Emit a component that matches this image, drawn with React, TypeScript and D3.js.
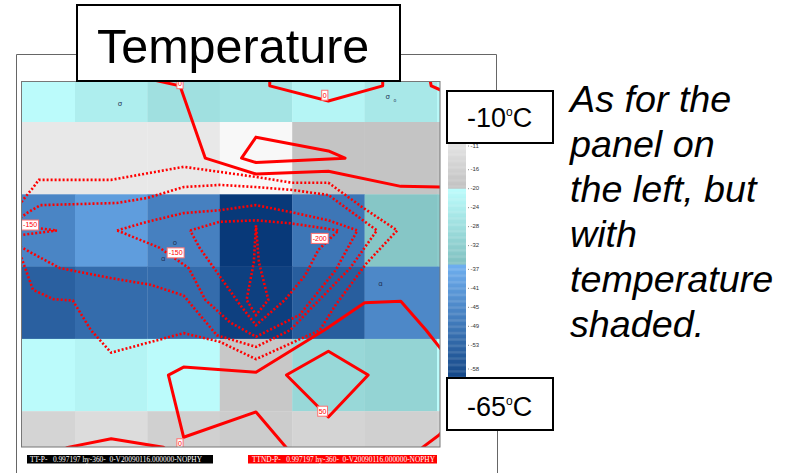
import React from "react";
import * as d3 from "d3";

// ---------- data ----------
// temperature (°C) per grid cell, rows top->bottom, cols left->right
const tempRow0 = [-20.3, -23.7, -27.4, -26.3, -21.8, -25.3, -21];
const tempRow1 = [-9.3, -9.3, -9.3, -5, -18.9, -18.9, -18];
const tempRow2 = [-45.7, -40.2, -46.8, -63, -49.1, -34.2, -33];
const tempRow3 = [-54, -51.4, -51.4, -61.4, -54.6, -44.9, -45];
const tempRow4 = [-20.3, -22.1, -20.3, -17.9, -29.5, -30.5, -20.3];
const tempRow5 = [-14.6, -12.5, -15.7, -16.8, -14.6, -15.7, -15];
const tempGrid = [tempRow0, tempRow1, tempRow2, tempRow3, tempRow4, tempRow5];

const colorbarTicks = [-11, -16, -20, -24, -28, -32, -37, -41, -45, -49, -53, -58];

// tendency contours (grid units: x = column, y = row)
const solidContours: [number, number][][] = [
  [[1.5, -0.1], [1.95, 0], [2.3, 1], [3, 1.22], [4, 1.18], [5, 1.39], [5.6, 1.4]],
  [[3, 0.71], [4, 0.9], [4.23, 1], [3, 1.06], [2.8, 1], [3, 0.71]],
  [[3.19, -0.1], [3.19, 0], [4, 0.21], [4.75, 0], [4.75, -0.1]],
  [[5.4, -0.1], [5.42, 0], [5.6, 0.08]],
  [[5.6, 3.7], [5.35, 3.38], [5, 2.98], [4.5, 3], [3.94, 3.38], [3, 3.96], [2, 3.89], [1.79, 4], [2, 4.86], [3, 4.51], [3.5, 5.1]],
  [[3.42, 4], [4, 3.67], [4.55, 4], [4, 4.58], [3.42, 4]],
  [[0.3, 5.05], [0.4, 5], [1, 4.88], [1.72, 5], [1.8, 5.05]],
  [[5.3, 5], [5.53, 4.83], [5.6, 4.75]],
];
const dottedContours: [number, number][][] = [
  [[-0.3, 1.7], [-0.22, 1.58], [-0.08, 1.41], [0, 1.3], [1, 1.3], [2, 1.12], [2.5, 1.19], [3, 1.26], [3.5, 1.34], [4, 1.34], [4.47, 1.68], [4.95, 2], [4.53, 2.45], [4.1, 3.03], [3.88, 3.38], [3, 3.78], [2.5, 3.54], [2, 3.42], [1, 3.69], [0.72, 3.38], [0.47, 2.97], [0.2, 2.95], [-0.08, 2.82], [-0.25, 2.35], [-0.3, 2.3]],
  [[-0.3, 1.86], [-0.15, 1.75], [0.02, 1.65], [1.08, 1.62], [1.5, 1.55], [2, 1.4], [2.5, 1.37], [3, 1.4], [3.5, 1.44], [4, 1.51], [4.67, 2], [4.3, 2.52], [3.47, 3.38], [3, 3.61], [2.46, 3.45], [2, 2.9], [1.54, 2.75], [1, 2.66], [0.29, 2.52], [-0.12, 2.3], [-0.3, 2.2]],
  [[-0.3, 1.93], [0.25, 2], [-0.3, 2.07]],
  [[1.08, 2], [1.5, 1.88], [2, 1.76], [2.5, 1.72], [3, 1.65], [3.5, 1.75], [4, 1.86], [4.4, 2], [4.1, 2.55], [3.6, 3.17], [3, 3.47], [2.64, 3.27], [2.3, 2.96], [2.07, 2.52], [1.67, 2.24], [1.08, 2]],
  [[2.09, 2], [2.5, 1.88], [3, 1.86], [3.47, 1.9], [4.14, 2], [3.86, 2.27], [3.68, 2.62], [3.4, 2.96], [3, 3.31], [2.78, 3.03], [2.44, 2.55], [2.22, 2.24], [2.09, 2]],
  [[3, 1.93], [2.97, 2.44], [2.87, 2.96], [3, 3.17], [3.17, 2.96], [3.04, 2.44], [3, 1.93]],
];
const contourLabelText = ["0", "0", "-150", "-150", "-200", "50", "0"];
const contourLabelPos: [number, number][] = [
  [1.95, -0.03], [3.95, 0.13], [-0.12, 1.925], [1.89, 2.31], [3.88, 2.11], [3.92, 4.5], [1.95, 4.95],
];
const stationGlyphs = ["σ", "σ", "₀", "o", "ɑ", "ɑ"];
const stationPos: [number, number][] = [
  [1.12, 0.25], [4.82, 0.15], [4.92, 0.2], [1.88, 2.17], [1.72, 2.4], [4.72, 2.74],
];

const sideText = ["As for the", "panel on", "the left, but", "with", "temperature", "shaded."];
const footerLeft = "TT-P-   0.997197 hy-360-  0-V20090116.000000-NOPHY";
const footerRight = "TTND-P-   0.997197 hy-360-  0-V20090116.000000-NOPHY";

// ---------- scales ----------
const x = d3.scaleLinear().domain([0, 1]).range([38.8, 111.2]);
const y = d3.scaleLinear().domain([0, 1]).range([85.85, 158.15]);
const barY = d3.scaleLinear().domain([-11, -58]).range([146, 369]);

const grayC = d3.scaleLinear<string>().domain([-5, -20]).range(["#f8f8f8", "#c0c0c0"]).clamp(true);
const cyanC = d3.scaleLinear<string>().domain([-20, -35.8]).range(["#bcfcfc", "#80c0c0"]).clamp(true);
const blueC = d3.scaleLinear<string>().domain([-35.8, -65]).range(["#70b0f0", "#003070"]).clamp(true);
const tempColor = (t: number) => (t > -20 ? grayC(t) : t > -35.8 ? cyanC(t) : blueC(t));

const line = d3.line<[number, number]>().x((d) => x(d[0])).y((d) => y(d[1]));

const PL = 21, PT = 81, PR = 440, PB = 447;

export default function App() {
  const barSteps = d3.range(-9, -66, -0.25);
  return (
    <div style={{ position: "absolute", left: 0, top: 0 }}>
      <svg width={785} height={473} style={{ display: "block", background: "#fff" }}>
        <defs>
          <clipPath id="plotClip">
            <rect x={PL} y={PT} width={PR - PL} height={PB - PT} />
          </clipPath>
        </defs>
        {/* outer frame */}
        <g stroke="#666" strokeWidth={1} fill="none">
          <line x1={16.5} y1={54.5} x2={496.5} y2={54.5} />
          <line x1={16.5} y1={54.5} x2={16.5} y2={473} />
          <line x1={496.5} y1={54.5} x2={496.5} y2={92} />
          <line x1={497.5} y1={429} x2={497.5} y2={473} />
        </g>
        {/* cells */}
        <g clipPath="url(#plotClip)">
          {tempGrid.map((row, r) =>
            row.map((t, c) => (
              <rect
                key={`${r}-${c}`}
                x={x(c - 0.5)}
                y={y(r - 0.5)}
                width={x(c + 0.5) - x(c - 0.5) + 0.3}
                height={y(r + 0.5) - y(r - 0.5) + 0.3}
                fill={tempColor(t)}
              />
            ))
          )}
          {stationGlyphs.map((g, i) => (
            <text key={i} x={x(stationPos[i][0])} y={y(stationPos[i][1])} fontSize={7} fill="#223355"
              fontFamily="DejaVu Sans" textAnchor="middle" dominantBaseline="middle">{g}</text>
          ))}
          {solidContours.map((c, i) => (
            <path key={`s${i}`} d={line(c) || ""} fill="none" stroke="#ff0000" strokeWidth={3}
              strokeLinejoin="round" strokeLinecap="round" />
          ))}
          {dottedContours.map((c, i) => (
            <path key={`d${i}`} d={line(c) || ""} fill="none" stroke="#ff0000" strokeWidth={2.6}
              strokeDasharray="2 2" />
          ))}
          {contourLabelText.map((t, i) => {
            const w = 3.6 * t.length + 2.6;
            const h = 10;
            const cx = x(contourLabelPos[i][0]);
            const cy = y(contourLabelPos[i][1]);
            return (
              <g key={`l${i}`}>
                <rect x={cx - w / 2} y={cy - h / 2} width={w} height={h} fill="#fff" stroke="#ff7070" strokeWidth={1} />
                <text x={cx} y={cy + 0.5} fontSize={7} fill="#ff0000" fontFamily="Liberation Sans"
                  textAnchor="middle" dominantBaseline="middle">{t}</text>
              </g>
            );
          })}
        </g>
        <rect x={PL + 0.5} y={PT + 0.5} width={PR - PL - 0.5} height={PB - PT - 0.5} fill="none" stroke="#777" strokeWidth={1} />

        {/* colorbar */}
        <g>
          {barSteps.map((t) => (
            <rect key={t} x={448} y={barY(t)} width={18} height={barY(t - 0.25) - barY(t) + 0.3} fill={tempColor(t)} />
          ))}
          {colorbarTicks.map((t) => (
            <g key={t}>
              <rect x={468} y={barY(t) - 0.5} width={1} height={1} fill="#888" />
              <text x={470.5} y={barY(t)} fontSize={6} fill="#333" fontFamily="Liberation Sans" dominantBaseline="middle">{t}</text>
            </g>
          ))}
        </g>

        {/* footer labels */}
        <rect x={27} y={455} width={186} height={8.5} fill="#000" />
        <text x={30} y={462} fontSize={8} fill="#fff" fontFamily="Liberation Serif" textLength={172} lengthAdjust="spacingAndGlyphs" style={{ whiteSpace: "pre" }}>{footerLeft}</text>
        <rect x={248} y={455} width={189} height={8.5} fill="#ff0000" />
        <text x={252} y={462} fontSize={8} fill="#fff" fontFamily="Liberation Serif" textLength={183} lengthAdjust="spacingAndGlyphs" style={{ whiteSpace: "pre" }}>{footerRight}</text>

        {/* title box */}
        <rect x={77} y={5} width={323} height={76} fill="#fff" stroke="#000" strokeWidth={2} />
        <text x={97} y={63} fontSize={48.5} fontFamily="Liberation Sans" fill="#000">Temperature</text>

        {/* range boxes */}
        <rect x={447} y={91} width={106} height={52} fill="#fff" stroke="#000" strokeWidth={2} />
        <text x={467} y={127} fontSize={27} fontFamily="Liberation Sans" fill="#000">
          -10<tspan fontSize={12} dy={-11}>o</tspan><tspan fontSize={27} dy={11}>C</tspan>
        </text>
        <rect x={447} y={378} width={106} height={52} fill="#fff" stroke="#000" strokeWidth={2} />
        <text x={467} y={416} fontSize={27} fontFamily="Liberation Sans" fill="#000">
          -65<tspan fontSize={12} dy={-11}>o</tspan><tspan fontSize={27} dy={11}>C</tspan>
        </text>

        {/* side text */}
        {sideText.map((s, i) => (
          <text key={i} x={570} y={112 + i * 45} fontSize={37.7} fontStyle="italic" fontFamily="Liberation Sans" fill="#000">{s}</text>
        ))}
      </svg>
    </div>
  );
}
